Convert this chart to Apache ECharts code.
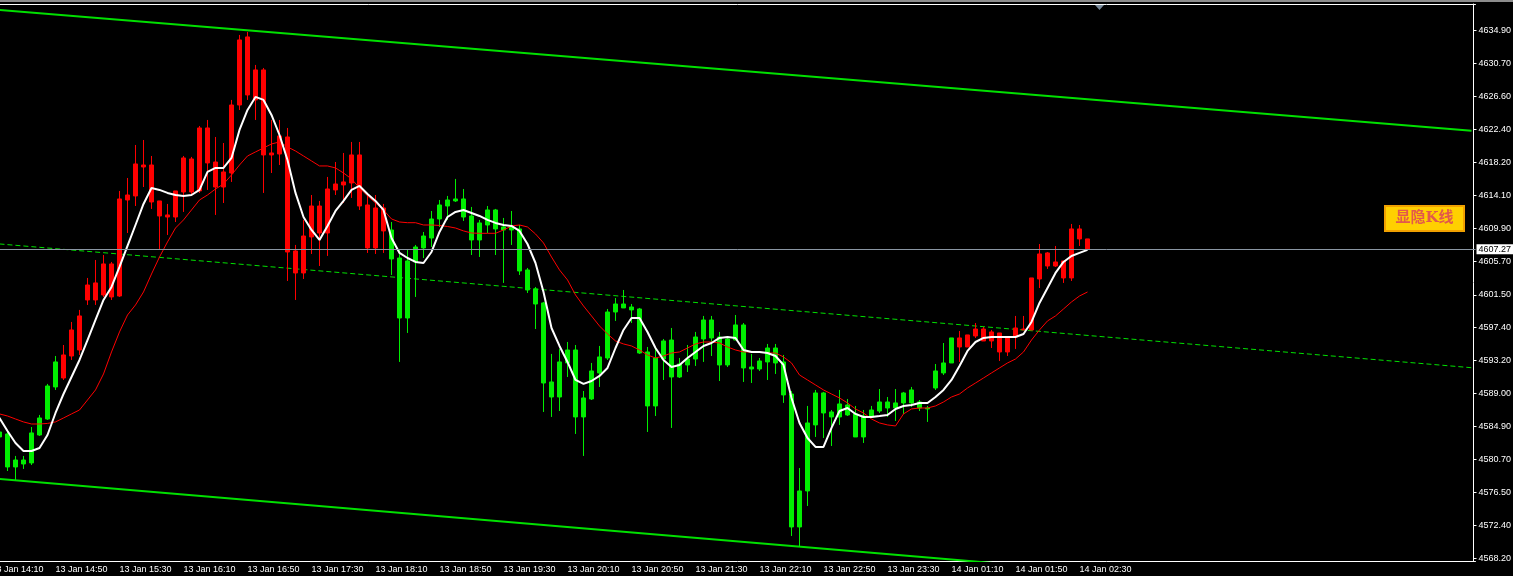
<!DOCTYPE html>
<html>
<head>
<meta charset="utf-8">
<title>M5 chart</title>
<script src="https://cdn.jsdelivr.net/npm/echarts@6/dist/echarts.min.js"></script>
<style>
  html, body { margin: 0; padding: 0; background: #000; }
  #chart { width: 1513px; height: 576px; }
</style>
</head>
<body>
<div id="chart"></div>
<script>
// bottom axis labels, one every 8 bars (bar 0 = 13 Jan 14:10)
const timeLabels = ['13 Jan 14:10', '13 Jan 14:50', '13 Jan 15:30', '13 Jan 16:10', '13 Jan 16:50',
  '13 Jan 17:30', '13 Jan 18:10', '13 Jan 18:50', '13 Jan 19:30', '13 Jan 20:10', '13 Jan 20:50',
  '13 Jan 21:30', '13 Jan 22:10', '13 Jan 22:50', '13 Jan 23:30', '14 Jan 01:10', '14 Jan 01:50',
  '14 Jan 02:30'];

// right axis labels
const priceTicks = [4568.20, 4572.40, 4576.50, 4580.70, 4584.90, 4589.00, 4593.20, 4597.40, 4601.50,
  4605.70, 4609.90, 4614.10, 4618.20, 4622.40, 4626.60, 4630.70, 4634.90];

const lastPrice = 4607.27;

// [open, close, low, high] per bar, bar 0 is off screen
const bars = [null,
  [4584.17, 4583.54, 4583.16, 4584.42], [4583.92, 4579.75, 4579.24, 4584.30], [4579.75, 4580.63, 4578.11, 4581.14],
  [4580.63, 4580.13, 4579.50, 4581.14], [4580.26, 4584.05, 4580.00, 4584.80], [4583.79, 4585.94, 4583.67, 4586.32],
  [4585.81, 4589.98, 4585.69, 4590.24], [4589.86, 4593.02, 4589.48, 4593.77], [4593.90, 4590.99, 4590.74, 4595.16],
  [4593.77, 4597.06, 4593.27, 4598.07], [4598.83, 4594.53, 4593.90, 4599.59], [4600.85, 4602.74, 4600.22, 4603.63],
  [4603.00, 4600.85, 4600.22, 4605.90], [4601.48, 4605.40, 4601.23, 4606.53], [4605.40, 4601.23, 4600.85, 4605.65],
  [4601.35, 4613.61, 4601.23, 4614.62], [4613.48, 4614.11, 4609.31, 4616.26], [4613.99, 4618.03, 4612.72, 4620.43],
  [4617.90, 4617.65, 4615.12, 4621.06], [4617.90, 4613.23, 4612.35, 4619.04], [4613.36, 4611.46, 4607.29, 4613.36],
  [4611.59, 4611.33, 4609.06, 4612.98], [4611.33, 4614.62, 4610.70, 4614.62], [4614.49, 4618.79, 4611.97, 4619.04],
  [4618.66, 4614.49, 4614.11, 4618.92], [4614.62, 4622.58, 4614.37, 4622.83], [4622.58, 4618.16, 4614.75, 4623.59],
  [4618.28, 4615.12, 4611.59, 4621.44], [4615.12, 4617.02, 4613.10, 4620.68], [4616.89, 4625.48, 4615.76, 4626.12],
  [4625.48, 4633.70, 4624.85, 4634.33], [4634.08, 4626.75, 4626.12, 4634.71], [4626.12, 4629.91, 4623.59, 4630.54],
  [4629.91, 4619.17, 4614.37, 4630.16], [4619.17, 4619.42, 4616.89, 4623.59], [4619.29, 4621.57, 4617.90, 4623.59],
  [4621.44, 4606.91, 4603.25, 4622.58], [4607.04, 4604.26, 4600.85, 4607.80], [4604.26, 4608.93, 4603.50, 4610.96],
  [4608.81, 4612.72, 4606.66, 4614.11], [4612.72, 4609.31, 4605.14, 4613.36], [4609.31, 4614.87, 4606.41, 4616.39],
  [4614.75, 4615.50, 4614.11, 4618.28], [4615.38, 4615.76, 4613.10, 4619.42], [4615.63, 4619.17, 4613.74, 4620.81],
  [4619.17, 4612.72, 4612.22, 4620.81], [4612.85, 4607.42, 4606.79, 4614.11], [4607.42, 4612.47, 4606.66, 4614.11],
  [4612.47, 4609.57, 4606.79, 4612.98], [4609.69, 4606.03, 4604.01, 4610.70], [4606.15, 4598.57, 4593.02, 4607.17],
  [4598.57, 4605.78, 4596.68, 4607.17], [4605.65, 4607.54, 4601.23, 4607.80], [4607.42, 4608.93, 4606.15, 4609.44],
  [4608.68, 4611.08, 4607.54, 4612.09], [4611.08, 4612.85, 4610.07, 4613.48], [4612.72, 4613.48, 4610.96, 4613.99],
  [4613.36, 4613.61, 4613.23, 4616.14], [4613.61, 4611.33, 4610.83, 4614.87], [4611.46, 4608.43, 4606.53, 4612.60],
  [4608.43, 4610.58, 4606.28, 4610.96], [4610.32, 4612.22, 4609.31, 4612.72], [4612.22, 4609.82, 4606.53, 4612.35],
  [4609.69, 4610.07, 4603.00, 4611.21], [4610.07, 4609.69, 4607.80, 4612.09], [4609.82, 4604.51, 4604.01, 4610.32],
  [4604.64, 4602.11, 4601.73, 4604.89], [4602.24, 4600.34, 4597.18, 4602.49], [4600.47, 4590.36, 4586.70, 4600.60],
  [4590.49, 4588.59, 4586.07, 4594.03], [4588.59, 4593.02, 4586.82, 4594.66], [4592.89, 4594.53, 4591.12, 4595.54],
  [4594.53, 4586.07, 4583.92, 4595.16], [4586.07, 4588.47, 4581.14, 4589.35], [4588.34, 4591.88, 4588.21, 4592.89],
  [4591.63, 4593.65, 4589.86, 4595.04], [4593.52, 4599.33, 4593.27, 4599.71], [4599.33, 4600.34, 4598.20, 4601.10],
  [4600.34, 4599.84, 4599.84, 4602.11], [4599.96, 4599.59, 4597.94, 4600.34], [4599.71, 4594.15, 4594.03, 4599.84],
  [4594.28, 4587.46, 4584.17, 4594.91], [4587.46, 4593.52, 4586.19, 4594.66], [4593.39, 4595.67, 4590.74, 4595.92],
  [4595.79, 4591.12, 4584.68, 4597.31], [4591.12, 4592.76, 4590.99, 4593.52], [4592.64, 4593.39, 4591.75, 4595.16],
  [4593.39, 4596.17, 4592.51, 4596.81], [4595.92, 4598.32, 4593.02, 4598.83], [4598.32, 4596.05, 4593.77, 4598.83],
  [4596.17, 4592.64, 4590.61, 4596.81], [4592.64, 4595.92, 4592.38, 4596.17], [4595.79, 4597.69, 4595.79, 4598.95],
  [4597.69, 4592.26, 4590.49, 4597.94], [4592.38, 4592.13, 4590.36, 4594.03], [4592.13, 4593.14, 4591.88, 4593.52],
  [4593.02, 4594.78, 4590.74, 4595.29], [4594.78, 4592.89, 4591.50, 4595.29], [4593.02, 4588.85, 4587.84, 4593.90],
  [4588.97, 4572.17, 4571.03, 4589.35], [4572.17, 4576.72, 4569.64, 4579.62], [4576.72, 4585.31, 4574.82, 4587.46],
  [4585.06, 4589.10, 4583.54, 4589.48], [4589.10, 4586.57, 4583.41, 4589.23], [4586.70, 4586.07, 4582.40, 4586.95],
  [4586.07, 4587.71, 4585.06, 4589.48], [4587.58, 4586.32, 4586.19, 4588.34], [4586.45, 4583.54, 4583.54, 4587.46],
  [4583.54, 4586.19, 4582.78, 4586.95], [4586.07, 4586.95, 4585.94, 4587.46], [4586.82, 4587.96, 4586.57, 4589.60],
  [4587.96, 4587.20, 4586.07, 4588.59], [4587.20, 4587.84, 4585.56, 4589.60], [4587.84, 4589.10, 4586.45, 4589.23],
  [4589.48, 4587.84, 4587.33, 4589.86], [4587.96, 4587.20, 4586.82, 4588.21], [4587.20, 4587.08, 4585.44, 4587.46],
  [4589.73, 4591.88, 4589.48, 4592.76], [4591.63, 4592.89, 4591.37, 4595.41], [4592.89, 4596.05, 4592.89, 4596.05],
  [4596.05, 4594.91, 4593.02, 4596.93], [4594.91, 4596.43, 4594.91, 4596.43], [4596.30, 4597.18, 4596.05, 4597.94],
  [4597.18, 4595.67, 4595.67, 4597.44], [4595.67, 4596.81, 4594.78, 4597.06], [4596.68, 4594.28, 4593.14, 4596.68],
  [4594.28, 4596.17, 4593.77, 4596.17], [4596.17, 4597.31, 4594.66, 4598.83], [4597.18, 4597.06, 4597.06, 4598.83],
  [4597.06, 4603.63, 4597.06, 4603.63], [4603.50, 4606.66, 4602.36, 4607.92], [4606.79, 4605.14, 4604.77, 4606.91],
  [4605.14, 4605.65, 4605.02, 4607.67], [4605.78, 4603.63, 4603.00, 4605.78], [4603.63, 4609.82, 4603.25, 4610.45],
  [4609.82, 4608.56, 4607.67, 4610.32], [4608.56, 4607.27, 4607.27, 4608.56]
];

// bar colour as painted by the indicator: [first bar, last bar, colour]
const barColorRuns = [[1, 8, 'g'], [9, 49, 'r'], [50, 120, 'g'], [121, 137, 'r']];

// white moving average
const maFast = [4587.71, 4585.94, 4584.30, 4582.78, 4581.77, 4581.77, 4582.15, 4583.79, 4586.57, 4588.97,
  4591.12, 4593.27, 4595.79, 4598.32, 4600.85, 4602.49, 4605.02, 4607.67, 4610.32, 4612.98,
  4615.00, 4614.75, 4614.37, 4614.11, 4613.99, 4614.11, 4614.75, 4617.02, 4617.53, 4617.53,
  4618.79, 4622.33, 4624.85, 4626.50, 4626.12, 4624.22, 4621.69, 4618.54, 4614.37, 4611.33,
  4609.69, 4608.43, 4610.20, 4612.09, 4613.36, 4614.75, 4615.25, 4614.24, 4613.36, 4612.22,
  4608.68, 4606.79, 4606.15, 4605.65, 4605.52, 4606.91, 4609.44, 4611.33, 4611.97, 4612.22,
  4611.84, 4611.46, 4610.96, 4610.58, 4610.32, 4610.20, 4609.57, 4607.92, 4605.52, 4601.86,
  4597.31, 4595.04, 4593.02, 4590.74, 4590.24, 4590.61, 4591.25, 4592.26, 4594.78, 4597.06,
  4598.57, 4598.57, 4596.81, 4594.78, 4593.27, 4592.38, 4592.64, 4593.52, 4594.28, 4595.04,
  4595.41, 4596.05, 4596.17, 4596.05, 4594.53, 4594.28, 4594.28, 4594.15, 4593.77, 4592.64,
  4588.47, 4585.31, 4583.41, 4582.28, 4582.28, 4584.68, 4586.82, 4587.20, 4586.45, 4586.07,
  4586.07, 4586.19, 4586.32, 4587.08, 4587.46, 4587.58, 4587.84, 4587.84, 4588.59, 4589.48,
  4590.74, 4592.51, 4594.41, 4595.54, 4596.05, 4596.17, 4596.17, 4596.17, 4596.17, 4596.55,
  4598.07, 4600.47, 4602.36, 4604.26, 4605.65, 4606.41, 4606.79, 4607.17];

// red moving average
const maSlow = [4586.70, 4586.45, 4586.19, 4585.81, 4585.44, 4585.18, 4585.18, 4585.25, 4585.44, 4585.94,
  4586.45, 4586.95, 4588.21, 4589.48, 4591.50, 4594.28, 4596.81, 4598.95, 4600.22, 4601.86,
  4604.13, 4606.28, 4608.18, 4609.94, 4610.96, 4612.22, 4613.48, 4614.11, 4614.87, 4615.50,
  4616.64, 4617.90, 4619.04, 4619.55, 4620.05, 4620.56, 4620.81, 4620.18, 4619.67, 4619.04,
  4618.41, 4617.78, 4617.78, 4617.53, 4616.89, 4616.14, 4615.00, 4613.99, 4613.10, 4612.22,
  4611.08, 4610.70, 4610.61, 4610.61, 4610.32, 4610.32, 4610.26, 4610.13, 4609.94, 4609.57,
  4609.31, 4609.27, 4609.27, 4609.27, 4609.69, 4610.20, 4610.32, 4610.07, 4609.19, 4608.05,
  4606.28, 4604.64, 4603.38, 4601.48, 4600.09, 4598.83, 4597.56, 4596.55, 4595.67, 4595.29,
  4595.04, 4594.53, 4593.90, 4593.52, 4593.77, 4594.15, 4594.28, 4594.78, 4595.29, 4595.54,
  4595.54, 4595.41, 4594.91, 4594.53, 4594.28, 4594.28, 4594.28, 4594.15, 4594.15, 4593.65,
  4592.89, 4591.37, 4590.74, 4590.11, 4589.48, 4588.97, 4588.47, 4587.84, 4587.08, 4586.57,
  4585.81, 4585.31, 4585.06, 4584.93, 4586.45, 4587.08, 4587.20, 4587.20, 4587.46, 4587.96,
  4588.59, 4588.97, 4589.73, 4590.36, 4590.99, 4591.63, 4592.26, 4592.89, 4593.39, 4594.28,
  4595.79, 4597.06, 4598.20, 4598.83, 4599.71, 4600.60, 4601.35, 4601.86];

// trend lines, [bar index, price] at each end
const channelTop = [[0, 4637.58], [185, 4622.22]];
const channelMid = [[0, 4608.01], [185, 4592.29]];
const channelLow = [[0, 4578.32], [185, 4562.50]];

const barCount = 186;
const categories = Array.from({ length: barCount }, (_, i) => String(i));
const colors = { r: '#ff0000', g: '#00ee00' };

function colorOfBar(i) {
  for (const [a, b, c] of barColorRuns) {
    if (i >= a && i <= b) return colors[c];
  }
  return colors.g;
}

const candleData = categories.map((_, i) => {
  const b = bars[i];
  if (!b) return '-';
  const c = colorOfBar(i);
  return { value: b, itemStyle: { color: c, color0: c, borderColor: c, borderColor0: c } };
});

const isLabelBar = (i) => i % 8 === 0 && i / 8 < timeLabels.length;
const font = 'Liberation Sans';

const chart = echarts.init(document.getElementById('chart'));
chart.setOption({
  backgroundColor: '#000',
  animation: false,
  grid: { left: -12.5, right: 37.5, top: 4, bottom: 15, outerBoundsMode: 'none', containLabel: false },
  xAxis: [{
    type: 'category',
    data: categories,
    boundaryGap: true,
    axisLine: { lineStyle: { color: '#fff', width: 1 } },
    axisTick: { alignWithLabel: true, interval: isLabelBar, length: 4, lineStyle: { color: '#fff' } },
    axisLabel: {
      interval: isLabelBar,
      formatter: (v) => timeLabels[Number(v) / 8] || '',
      color: '#fff', fontSize: 9, fontFamily: font, align: 'left', margin: 4
    },
    splitLine: { show: false }
  }, {
    type: 'category',
    data: categories,
    position: 'top',
    axisLine: { lineStyle: { color: '#fff', width: 1 } },
    axisTick: { show: false },
    axisLabel: { show: false }
  }],
  yAxis: {
    type: 'value',
    position: 'right',
    offset: -2,
    min: 4567.87,
    max: 4638.24,
    axisLine: { show: true, lineStyle: { color: '#fff' } },
    axisTick: { show: true, customValues: priceTicks, length: 3, lineStyle: { color: '#fff' } },
    axisLabel: {
      customValues: priceTicks,
      formatter: (v) => v.toFixed(2),
      color: '#fff', fontSize: 9, fontFamily: font, margin: 5
    },
    splitLine: { show: false }
  },
  series: [
    {
      type: 'line', data: channelTop, symbol: 'none', silent: true, z: 1,
      lineStyle: { color: '#00e000', width: 2 }
    },
    {
      type: 'line', data: channelMid, symbol: 'none', silent: true, z: 1,
      lineStyle: { color: '#00e000', width: 1, type: [5, 3] }
    },
    {
      type: 'line', data: channelLow, symbol: 'none', silent: true, z: 1,
      lineStyle: { color: '#00e000', width: 2 }
    },
    {
      type: 'candlestick',
      data: candleData,
      barWidth: 4,
      itemStyle: { borderWidth: 1 },
      z: 2,
      markLine: {
        silent: true,
        symbol: ['none', 'none'],
        animation: false,
        lineStyle: { color: '#8a96a3', width: 1, type: 'solid' },
        label: {
          position: 'end', distance: 1,
          formatter: lastPrice.toFixed(2),
          backgroundColor: '#fff', color: '#000',
          fontSize: 9, fontFamily: font, padding: [1, 2, 0, 2]
        },
        data: [{ yAxis: lastPrice }]
      }
    },
    {
      type: 'line', data: maSlow, symbol: 'none', silent: true, z: 3,
      lineStyle: { color: '#ff0000', width: 1 }
    },
    {
      type: 'line', data: maFast, symbol: 'none', silent: true, z: 4,
      lineStyle: { color: '#ffffff', width: 2 }
    }
  ],
  graphic: [
    { type: 'rect', shape: { x: 0, y: 0, width: 1513, height: 2 }, style: { fill: '#8c8c8c' }, silent: true },
    { type: 'polygon', shape: { points: [[1095, 5], [1104, 5], [1099.5, 10]] }, style: { fill: '#778899' }, silent: true },
    {
      type: 'group', left: 1384, top: 205,
      children: [
        { type: 'rect', shape: { x: 0, y: 0, width: 79, height: 25 }, style: { fill: '#ffd000', stroke: '#f0a000', lineWidth: 2 } },
        {
          type: 'text', x: 39.5, y: 12.5,
          style: {
            text: '显隐K线', fill: '#e2584c',
            font: 'bold 15px "DejaVu Serif", "Noto Sans CJK SC"',
            textAlign: 'center', textVerticalAlign: 'middle'
          }
        }
      ]
    }
  ]
});
</script>
</body>
</html>
